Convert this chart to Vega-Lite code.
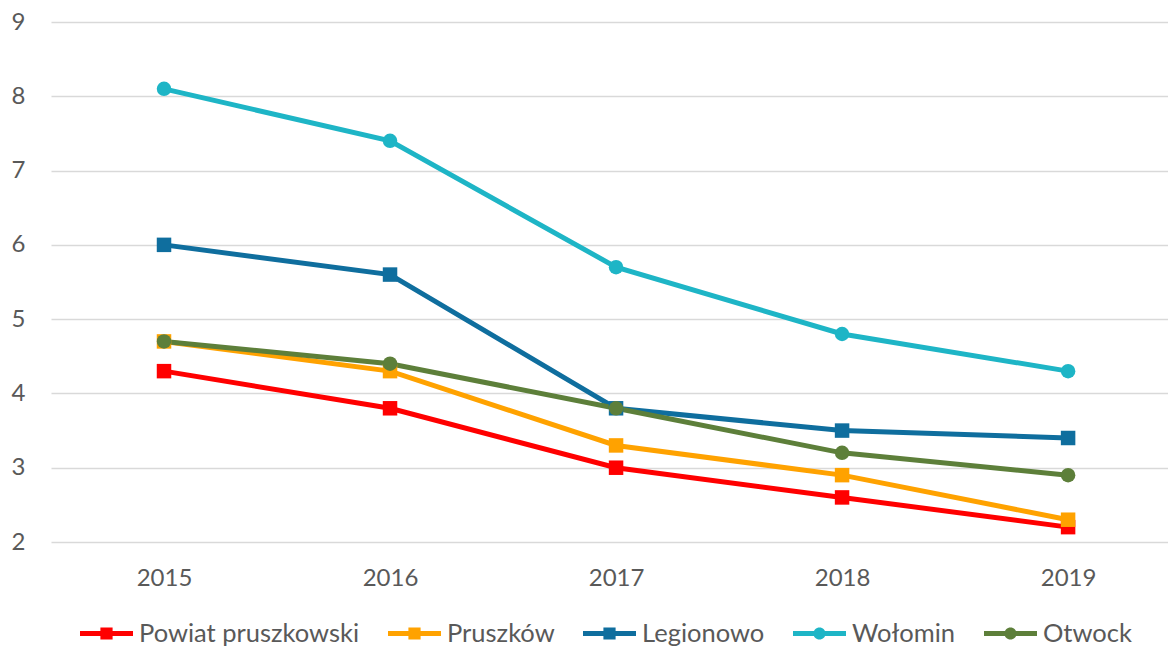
{
  "$schema": "https://vega.github.io/schema/vega-lite/v6.json",
  "autosize": "none",
  "width": 1117,
  "height": 520,
  "padding": {"left": 51, "top": 22, "right": 0, "bottom": 104},
  "background": "white",
  "config": {
    "font": "Lato",
    "view": {"stroke": null}
  },
  "data": {
    "values": [
      {"series": "Powiat pruszkowski", "year": 2015, "value": 4.3, "marker": "square"},
      {"series": "Powiat pruszkowski", "year": 2016, "value": 3.8, "marker": "square"},
      {"series": "Powiat pruszkowski", "year": 2017, "value": 3.0, "marker": "square"},
      {"series": "Powiat pruszkowski", "year": 2018, "value": 2.6, "marker": "square"},
      {"series": "Powiat pruszkowski", "year": 2019, "value": 2.2, "marker": "square"},
      {"series": "Pruszków", "year": 2015, "value": 4.7, "marker": "square"},
      {"series": "Pruszków", "year": 2016, "value": 4.3, "marker": "square"},
      {"series": "Pruszków", "year": 2017, "value": 3.3, "marker": "square"},
      {"series": "Pruszków", "year": 2018, "value": 2.9, "marker": "square"},
      {"series": "Pruszków", "year": 2019, "value": 2.3, "marker": "square"},
      {"series": "Legionowo", "year": 2015, "value": 6.0, "marker": "square"},
      {"series": "Legionowo", "year": 2016, "value": 5.6, "marker": "square"},
      {"series": "Legionowo", "year": 2017, "value": 3.8, "marker": "square"},
      {"series": "Legionowo", "year": 2018, "value": 3.5, "marker": "square"},
      {"series": "Legionowo", "year": 2019, "value": 3.4, "marker": "square"},
      {"series": "Wołomin", "year": 2015, "value": 8.1, "marker": "circle"},
      {"series": "Wołomin", "year": 2016, "value": 7.4, "marker": "circle"},
      {"series": "Wołomin", "year": 2017, "value": 5.7, "marker": "circle"},
      {"series": "Wołomin", "year": 2018, "value": 4.8, "marker": "circle"},
      {"series": "Wołomin", "year": 2019, "value": 4.3, "marker": "circle"},
      {"series": "Otwock", "year": 2015, "value": 4.7, "marker": "circle"},
      {"series": "Otwock", "year": 2016, "value": 4.4, "marker": "circle"},
      {"series": "Otwock", "year": 2017, "value": 3.8, "marker": "circle"},
      {"series": "Otwock", "year": 2018, "value": 3.2, "marker": "circle"},
      {"series": "Otwock", "year": 2019, "value": 2.9, "marker": "circle"}
    ]
  },
  "encoding": {
    "x": {
      "field": "year",
      "type": "quantitative",
      "scale": {"domain": [2014.5, 2019.442], "nice": false, "zero": false},
      "axis": {
        "title": null,
        "values": [2015, 2016, 2017, 2018, 2019],
        "format": "d",
        "grid": false,
        "domain": false,
        "ticks": false,
        "labelFlush": false,
        "labelPadding": 24,
        "labelFontSize": 24,
        "labelColor": "#595959"
      }
    },
    "y": {
      "field": "value",
      "type": "quantitative",
      "scale": {"domain": [2, 9], "nice": false, "zero": false},
      "axis": {
        "title": null,
        "values": [2, 3, 4, 5, 6, 7, 8, 9],
        "grid": true,
        "gridColor": "#D9D9D9",
        "gridWidth": 1.5,
        "domain": false,
        "ticks": false,
        "labelPadding": 26,
        "labelFontSize": 24,
        "labelColor": "#595959"
      }
    },
    "color": {
      "field": "series",
      "type": "nominal",
      "sort": ["Powiat pruszkowski", "Pruszków", "Legionowo", "Wołomin", "Otwock"],
      "scale": {
        "domain": ["Powiat pruszkowski", "Pruszków", "Legionowo", "Wołomin", "Otwock"],
        "range": ["#FF0000", "#FFA200", "#0F6E9E", "#1EB5C6", "#5D7F3A"]
      },
      "legend": {
        "title": null,
        "orient": "none",
        "legendX": 29,
        "legendY": 585,
        "direction": "horizontal",
        "labelFontSize": 25.5,
        "labelColor": "#595959",
        "labelLimit": 400,
        "labelOffset": 6,
        "columnPadding": 28,
        "encode": {
          "symbols": {
            "update": {
              "shape": {"signal": "indexof(['Wołomin','Otwock'], datum.value) >= 0 ? 'M-1,-0.09H1V0.09H-1Z M-0.23,0A0.23,0.23 0 1,1 0.23,0A0.23,0.23 0 1,1 -0.23,0Z' : 'M-1,-0.09H1V0.09H-1Z M-0.23,-0.23H0.23V0.23H-0.23Z'"},
              "fill": {"scale": "color", "field": "value"},
              "stroke": {"value": "transparent"},
              "strokeWidth": {"value": 0},
              "size": {"value": 2809},
              "opacity": {"value": 1}
            }
          }
        }
      }
    }
  },
  "layer": [
    {
      "mark": {"type": "line", "strokeWidth": 5}
    },
    {
      "mark": {"type": "point", "filled": true, "opacity": 1, "size": 210},
      "encoding": {
        "shape": {
          "field": "marker",
          "type": "nominal",
          "scale": {"domain": ["square", "circle"], "range": ["square", "circle"]},
          "legend": null
        }
      }
    }
  ]
}
